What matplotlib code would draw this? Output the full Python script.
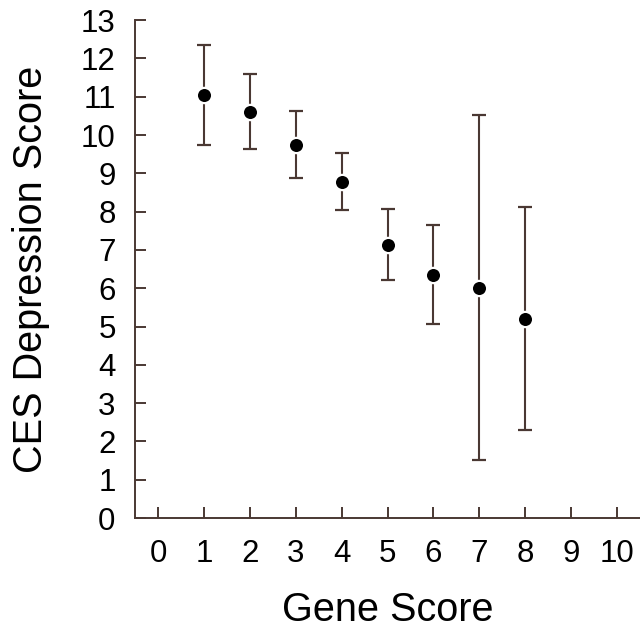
#!/usr/bin/env python3
import matplotlib
matplotlib.use('Agg')
import matplotlib.pyplot as plt

OUTPUTFILE = "out.png"

# gene score groups, mean CES score and CI limits
gene_score = [1, 2, 3, 4, 5, 6, 7, 8]
ces_mean = [11.04, 10.60, 9.74, 8.78, 7.14, 6.35, 6.00, 5.20]
ces_upper = [12.36, 11.59, 10.62, 9.54, 8.08, 7.66, 10.52, 8.11]
ces_lower = [9.75, 9.63, 8.87, 8.04, 6.22, 5.07, 1.51, 2.30]

x_ticks = list(range(0, 11))
y_ticks = list(range(0, 14))

AXCOL = "#4a3833"


def main():
    plt.rcParams['font.family'] = ['Liberation Sans', 'DejaVu Sans']
    fig = plt.figure(figsize=(6.4, 6.28), dpi=100)
    ax = fig.add_axes([0.211, 0.175, 0.789, 0.793])

    err_lo = [m - lo for m, lo in zip(ces_mean, ces_lower)]
    err_hi = [hi - m for m, hi in zip(ces_mean, ces_upper)]
    ax.errorbar(gene_score, ces_mean, yerr=[err_lo, err_hi], fmt='o',
                color='black', ecolor=AXCOL, elinewidth=1.5, capsize=5,
                capthick=1.5, markersize=11, markeredgecolor='white',
                markeredgewidth=1.6, zorder=3)

    ax.set_xlim(-0.5, 10.5)
    ax.set_ylim(0, 13)
    ax.set_xticks(x_ticks)
    ax.set_yticks(y_ticks)

    for side in ("top", "right"):
        ax.spines[side].set_visible(False)
    for side in ("left", "bottom"):
        ax.spines[side].set_color(AXCOL)
        ax.spines[side].set_linewidth(1.4)
    ax.spines["left"].set_bounds(0, 13)

    ax.tick_params(axis='both', direction='in', length=8, width=1.4,
                   color=AXCOL, labelsize=22.5)
    ax.tick_params(axis='y', pad=14)
    ax.tick_params(axis='x', pad=15)

    ax.set_xlabel("Gene Score", fontsize=28.5, labelpad=16)
    ax.set_ylabel("CES Depression Score", fontsize=28.5, labelpad=22)

    plt.savefig(OUTPUTFILE)
    print("Graph created: " + OUTPUTFILE)


if __name__ == "__main__":
    main()
